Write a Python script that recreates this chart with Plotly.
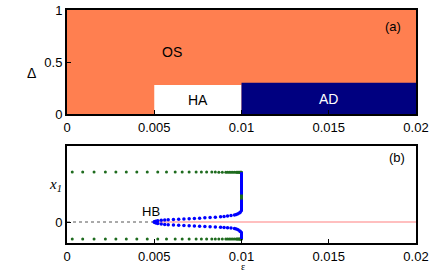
import plotly.graph_objects as go

# ---------------- data ----------------
eps_ticks = [0, 0.005, 0.01, 0.015, 0.02]
eps_tick_labels = ["0", "0.005", "0.01", "0.015", "0.02"]
delta_ticks = [0, 0.5, 1]
delta_tick_labels = ["0", "0.5", "1"]

# panel (a): regions in (epsilon, Delta) plane
region_names = ["OS", "HA", "AD"]
region_eps_lo = [0.0, 0.005, 0.01]
region_eps_hi = [0.02, 0.01, 0.02]
region_delta_lo = [0.0, 0.0, 0.0]
region_delta_hi = [1.0, 0.28, 0.30]
region_colors = ["#ff7f50", "#ffffff", "#000080"]
region_label_eps = [0.0060, 0.0075, 0.0150]
region_label_delta = [0.60, 0.13, 0.14]
region_label_colors = ["black", "black", "white"]

# panel (b): bifurcation diagram
green_eps = [0.0003, 0.0009, 0.00155, 0.0022, 0.0028, 0.0034, 0.0040, 0.0046,
             0.0052, 0.0057, 0.0062, 0.0066, 0.0070, 0.0074, 0.0077, 0.0080,
             0.0083, 0.0085, 0.0087, 0.0089, 0.0091, 0.0092, 0.0093, 0.0094,
             0.0095, 0.0096, 0.0097, 0.00975, 0.0098, 0.00985, 0.0099, 0.00993,
             0.00996, 0.00998, 0.0100]
green_upper = [2.0, 2.0, 2.0, 2.0, 2.0, 2.0, 2.0, 2.0,
               2.0, 2.0, 2.0, 2.0, 2.0, 2.0, 2.0, 2.0,
               2.0, 2.0, 1.99, 1.99, 1.99, 1.99, 1.99, 1.99,
               1.99, 1.99, 1.99, 1.99, 1.99, 1.99, 1.99, 1.99,
               1.99, 1.99, 1.99]
green_lower = [-0.68, -0.68, -0.68, -0.68, -0.68, -0.68, -0.68, -0.68,
               -0.68, -0.68, -0.68, -0.68, -0.68, -0.68, -0.68, -0.68,
               -0.68, -0.68, -0.68, -0.68, -0.68, -0.68, -0.68, -0.68,
               -0.68, -0.68, -0.68, -0.68, -0.68, -0.68, -0.68, -0.68,
               -0.68, -0.68, -0.68]
green_mid_eps = [0.0100, 0.0100]
green_mid_x1 = [0.90, 1.10]

blue_eps = [0.0050, 0.00505, 0.0051, 0.0052, 0.0054, 0.0056, 0.0058, 0.0061, 0.0064,
            0.0067, 0.0070, 0.0073, 0.0076, 0.0079, 0.0082, 0.0085, 0.0088,
            0.0090, 0.0092, 0.0094, 0.0096, 0.0097, 0.0098, 0.0099]
blue_upper = [0.0, 0.02, 0.03, 0.05, 0.07, 0.08, 0.09, 0.10, 0.11,
              0.12, 0.13, 0.14, 0.15, 0.17, 0.18, 0.19, 0.21,
              0.22, 0.24, 0.26, 0.28, 0.30, 0.33, 0.37]
blue_lower = [0.0, -0.02, -0.04, -0.06, -0.08, -0.10, -0.11, -0.12, -0.13,
              -0.14, -0.15, -0.16, -0.17, -0.18, -0.19, -0.20, -0.21,
              -0.22, -0.23, -0.24, -0.26, -0.28, -0.31, -0.36]
blue_up_jump_eps = [0.0099, 0.0100, 0.0100]
blue_up_jump_x1 = [0.37, 0.45, 1.99]
blue_dn_jump_eps = [0.0099, 0.0100, 0.0100]
blue_dn_jump_x1 = [-0.36, -0.42, -0.68]

stable_eps = [0.0, 0.005]
stable_x1 = [0.0, 0.0]
red_eps = [0.005, 0.02]
red_x1 = [0.0, 0.0]

hb_eps = 0.0048
hb_x1 = 0.42

# ---------------- figure ----------------
fig = go.Figure()

for i, name in enumerate(region_names):
    fig.add_trace(go.Scatter(
        x=[region_eps_lo[i], region_eps_hi[i], region_eps_hi[i], region_eps_lo[i], region_eps_lo[i]],
        y=[region_delta_lo[i], region_delta_lo[i], region_delta_hi[i], region_delta_hi[i], region_delta_lo[i]],
        fill="toself", fillcolor=region_colors[i], mode="lines",
        line=dict(width=0, color=region_colors[i]), hoverinfo="skip",
        xaxis="x", yaxis="y", showlegend=False))
    fig.add_annotation(x=region_label_eps[i], y=region_label_delta[i], xref="x", yref="y",
                       text=name, showarrow=False,
                       font=dict(family="Liberation Sans", size=14, color=region_label_colors[i]))

# panel b
fig.add_trace(go.Scatter(x=stable_eps, y=stable_x1, mode="lines",
                         line=dict(color="#555555", width=1, dash="dot"),
                         xaxis="x2", yaxis="y2", showlegend=False))
fig.add_trace(go.Scatter(x=red_eps, y=red_x1, mode="lines",
                         line=dict(color="#ff8080", width=1.2),
                         xaxis="x2", yaxis="y2", showlegend=False))
for ys in (green_upper, green_lower):
    fig.add_trace(go.Scatter(x=green_eps, y=ys, mode="markers",
                             marker=dict(color="#1e6b1e", size=3),
                             xaxis="x2", yaxis="y2", showlegend=False))
for ys in (blue_upper, blue_lower):
    fig.add_trace(go.Scatter(x=blue_eps, y=ys, mode="markers",
                             marker=dict(color="#0000ff", size=3.5),
                             xaxis="x2", yaxis="y2", showlegend=False))
for xs, ys in ((blue_up_jump_eps, blue_up_jump_x1), (blue_dn_jump_eps, blue_dn_jump_x1)):
    fig.add_trace(go.Scatter(x=xs, y=ys, mode="lines",
                             line=dict(color="#0000ff", width=3),
                             xaxis="x2", yaxis="y2", showlegend=False))
fig.add_trace(go.Scatter(x=green_mid_eps, y=green_mid_x1, mode="lines",
                         line=dict(color="#1e6b1e", width=3),
                         xaxis="x2", yaxis="y2", showlegend=False))

fig.add_annotation(x=hb_eps, y=hb_x1, xref="x2", yref="y2", text="HB", showarrow=False,
                   font=dict(family="Liberation Sans", size=13, color="black"))

axis_common = dict(showline=True, linecolor="black", linewidth=2, mirror=True,
                   ticks="inside", ticklen=4, tickcolor="black", showgrid=False,
                   zeroline=False, automargin=False,
                   tickfont=dict(family="Liberation Sans", size=13, color="black"))

FIG_W, FIG_H = 436, 273
L, R, T, B = 67, 20, 10, 30

fig.update_layout(
    width=FIG_W, height=FIG_H,
    margin=dict(l=L, r=R, t=T, b=B, autoexpand=False),
    paper_bgcolor="white", plot_bgcolor="white",
    xaxis=dict(domain=[0, 1], range=[0, 0.02], tickvals=eps_ticks, ticktext=eps_tick_labels,
               anchor="y", **axis_common),
    yaxis=dict(domain=[0.5536, 1], range=[0, 1], tickvals=delta_ticks, ticktext=delta_tick_labels,
               anchor="x", **axis_common),
    xaxis2=dict(domain=[0, 1], range=[0, 0.02], tickvals=eps_ticks, ticktext=eps_tick_labels,
                anchor="y2", **axis_common),
    yaxis2=dict(domain=[0, 0.4163], range=[-0.84, 3.04], tickvals=[0], ticktext=["0"],
                anchor="x2", **axis_common),
)

W_plot = FIG_W - L - R
H_plot = FIG_H - T - B
def px(xp, yp):
    # page pixel -> paper fraction
    return (xp - L) / W_plot, (FIG_H - B - yp) / H_plot

ax, ay = px(25, 63)
fig.add_annotation(x=ax, y=ay, xref="paper", yref="paper", text="Δ", showarrow=False,
                   font=dict(family="Liberation Sans", size=14, color="black"))
ax, ay = px(47, 196)
fig.add_annotation(x=ax, y=ay, xref="paper", yref="paper", text="<i>x</i><sub><i>1</i></sub>",
                   showarrow=False, font=dict(family="Liberation Serif", size=15, color="black"))
ax, ay = px(243, 273)
fig.add_annotation(x=ax, y=ay, xref="paper", yref="paper", text="ε", showarrow=False,
                   yanchor="bottom", borderpad=0,
                   font=dict(family="Liberation Serif", size=10, color="black"))
ax, ay = px(403, 17)
fig.add_annotation(x=ax, y=ay, xref="paper", yref="paper", text="(a)", showarrow=False,
                   font=dict(family="Liberation Sans", size=13, color="black"))
ax, ay = px(407, 157)
fig.add_annotation(x=ax, y=ay, xref="paper", yref="paper", text="(b)", showarrow=False,
                   font=dict(family="Liberation Sans", size=13, color="black"))

fig.write_html("out.html", config={"displayModeBar": False},
               post_script="document.body.style.margin='0';document.body.style.padding='0';")
